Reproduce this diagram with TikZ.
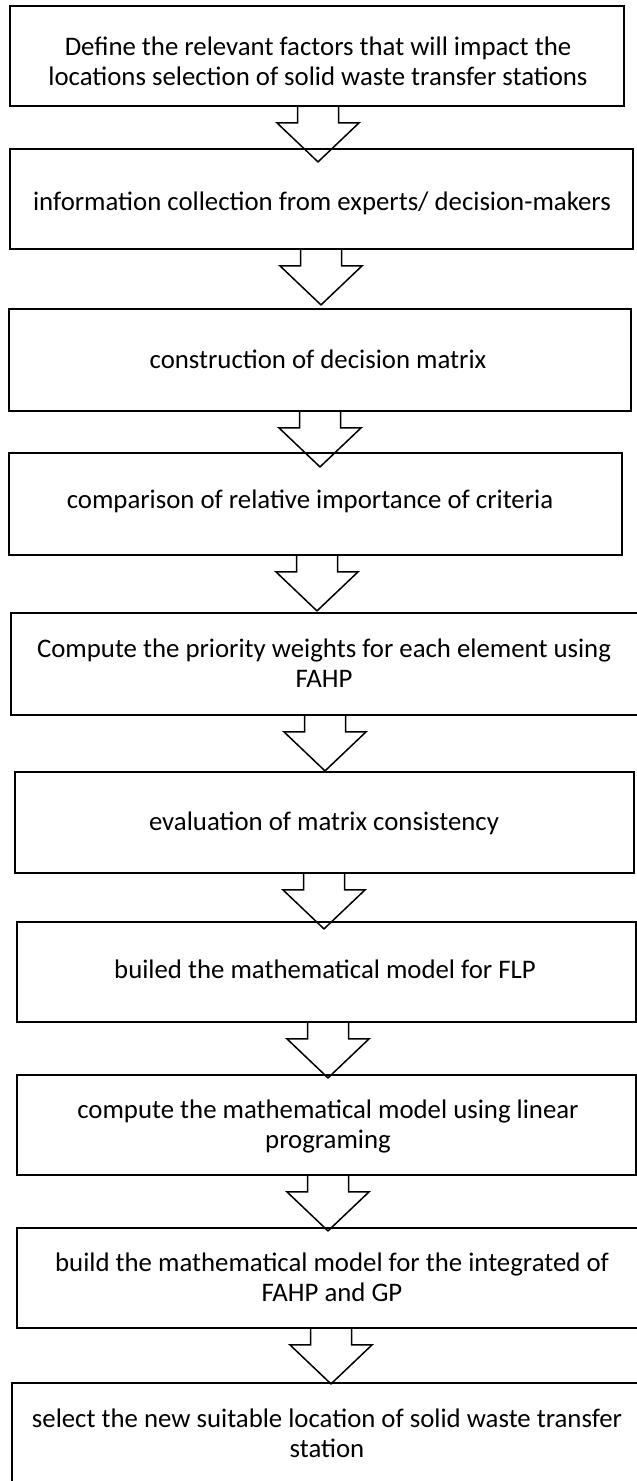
\documentclass[tikz,border=0pt]{standalone}
\usepackage{fontspec}
\setmainfont{Carlito}
\usetikzlibrary{calc}
\tikzset{
  box/.style={draw=black, line width=1.8pt, rectangle, inner sep=0pt},
  txt/.style={align=center, inner sep=0pt, anchor=base, font=\fontsize{26.8}{30}\selectfont},
  arrowline/.style={draw=black, line width=1.5pt, line join=miter}
}
% #1 source box, #2 target box, #3 x of arrow axis
\newcommand\blockarrow[3]{%
  \draw[arrowline] let \p1=(#1.south), \p2=(#2.north) in
    (#3-20.5,\y1) -- (#3-20.5,\y1-16) -- (#3-41,\y1-16) -- (#3,\y1-55)
    -- (#3+41,\y1-16) -- (#3+20.5,\y1-16) -- (#3+20.5,\y1);}
\begin{document}
\begin{tikzpicture}[x=1pt,y=-1pt]
\fill[white] (0,0) rectangle (637,1481);
\useasboundingbox (0,0) rectangle (637,1481);
% boxes
\node[box, minimum width=614pt, minimum height=100pt] (b1) at (317,56) {};
\node[box, minimum width=623pt, minimum height=100pt] (b2) at (321.5,199) {};
\node[box, minimum width=622pt, minimum height=102pt] (b3) at (320,360) {};
\node[box, minimum width=613pt, minimum height=102pt] (b4) at (315.5,504) {};
\node[box, minimum width=629pt, minimum height=102pt] (b5) at (325.5,664) {};
\node[box, minimum width=619pt, minimum height=101pt] (b6) at (324.5,822.5) {};
\node[box, minimum width=619pt, minimum height=100pt] (b7) at (326.5,972) {};
\node[box, minimum width=619pt, minimum height=100pt] (b8) at (326.5,1125) {};
\node[box, minimum width=623pt, minimum height=100pt] (b9) at (328.5,1278) {};
\node[box, minimum width=633pt, minimum height=117pt] (b10) at (328.5,1441.5) {};
% texts (anchor = baseline of last line)
\node[txt] (t1) at (318,85) {Define the relevant factors that will impact the\\locations selection of solid waste transfer stations};
\node[txt] (t2) at (322,210) {information collection from experts/ decision-makers};
\node[txt] (t3) at (318,368) {construction of decision matrix};
\node[txt] (t4) at (310,508) {comparison of relative importance of criteria};
\node[txt] (t5) at (324,687) {Compute the priority weights for each element using\\FAHP};
\node[txt] (t6) at (324,830) {evaluation of matrix consistency};
\node[txt] (t7) at (325,978) {builed the mathematical model for FLP};
\node[txt] (t8) at (328,1148) {compute the mathematical model using linear\\programing};
\node[txt] (t9) at (332,1301) {build the mathematical model for the integrated of\\FAHP and GP};
\node[txt] (t10) at (327,1457) {select the new suitable location of solid waste transfer\\station};
% block arrows
\blockarrow{b1}{b2}{318}
\blockarrow{b2}{b3}{321}
\blockarrow{b3}{b4}{320}
\blockarrow{b4}{b5}{317}
\blockarrow{b5}{b6}{325}
\blockarrow{b6}{b7}{324}
\blockarrow{b7}{b8}{328}
\blockarrow{b8}{b9}{328}
\blockarrow{b9}{b10}{331}
\end{tikzpicture}
\end{document}
